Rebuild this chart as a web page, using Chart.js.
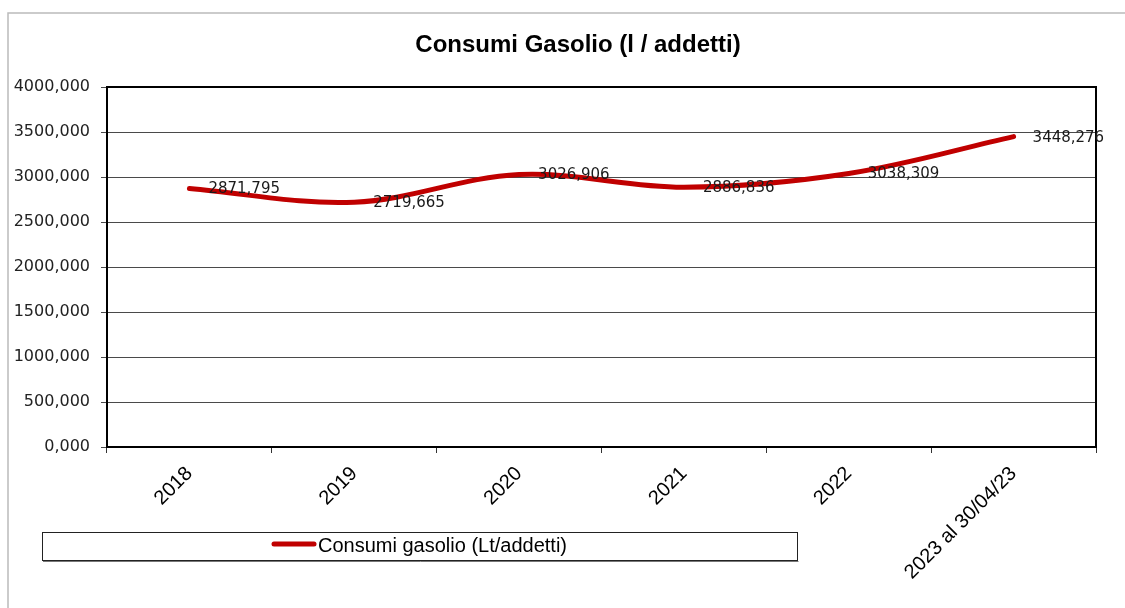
<!DOCTYPE html>
<html>
<head>
<meta charset="utf-8">
<script src="https://cdn.jsdelivr.net/npm/chart.js@4/dist/chart.umd.min.js"></script>
<style>
  html, body { margin: 0; padding: 0; background: #fff; }
  #wrap { width: 1125px; height: 608px; position: relative; }
</style>
</head>
<body>
<div id="wrap"><canvas id="chart" width="1125" height="608"></canvas></div>
<script>
// Data
const categories = ['2018', '2019', '2020', '2021', '2022', '2023 al 30/04/23'];
const consumiGasolio = [2871.795, 2719.665, 3026.906, 2886.836, 3038.309, 3448.276];
const yTickValues = [0, 500, 1000, 1500, 2000, 2500, 3000, 3500, 4000];
const chartTitle = 'Consumi Gasolio (l / addetti)';
const seriesLabel = 'Consumi gasolio (Lt/addetti)';

const lineColor = '#C00000';

function formatIt(v) {
  return v.toFixed(3).replace('.', ',');
}

// Frame, title, plot border, data labels and legend box
const decorations = {
  id: 'decorations',
  beforeDraw(chart) {
    const ctx = chart.ctx;
    ctx.save();
    ctx.strokeStyle = '#bbbbbb';
    ctx.lineWidth = 1.5;
    ctx.beginPath();
    ctx.moveTo(8, 608);
    ctx.lineTo(8, 13);
    ctx.lineTo(1125, 13);
    ctx.stroke();
    ctx.restore();
  },
  afterDraw(chart) {
    const ctx = chart.ctx;
    const area = chart.chartArea;
    ctx.save();

    // title
    ctx.fillStyle = '#000';
    ctx.font = 'bold 24px "Liberation Sans", Arial, sans-serif';
    ctx.textAlign = 'center';
    ctx.textBaseline = 'middle';
    ctx.fillText(chartTitle, 578, 45);

    // plot border top and right
    ctx.strokeStyle = '#000';
    ctx.lineWidth = 2;
    ctx.beginPath();
    ctx.moveTo(area.left, area.top);
    ctx.lineTo(area.right, area.top);
    ctx.lineTo(area.right, area.bottom);
    ctx.stroke();

    // data labels
    const meta = chart.getDatasetMeta(0);
    ctx.font = '15px "DejaVu Sans", sans-serif';
    ctx.fillStyle = '#1a1a1a';
    ctx.textAlign = 'left';
    ctx.textBaseline = 'middle';
    meta.data.forEach((pt, i) => {
      ctx.fillText(formatIt(consumiGasolio[i]), pt.x + 19, pt.y + 1);
    });

    // legend box
    ctx.fillStyle = '#fff';
    ctx.fillRect(42, 532, 755, 28);
    ctx.strokeStyle = '#222';
    ctx.lineWidth = 1;
    ctx.strokeRect(42.5, 532.5, 755, 28);
    ctx.strokeStyle = '#777';
    ctx.beginPath();
    ctx.moveTo(43, 561.5);
    ctx.lineTo(798.5, 561.5);
    ctx.stroke();

    ctx.strokeStyle = lineColor;
    ctx.lineWidth = 5;
    ctx.lineCap = 'round';
    ctx.beginPath();
    ctx.moveTo(274, 544);
    ctx.lineTo(314, 544);
    ctx.stroke();

    ctx.fillStyle = '#000';
    ctx.font = '20px "Liberation Sans", Arial, sans-serif';
    ctx.textAlign = 'left';
    ctx.textBaseline = 'middle';
    ctx.fillText(chart.data.datasets[0].label, 318, 546);

    ctx.restore();
  }
};

const ctx = document.getElementById('chart').getContext('2d');
new Chart(ctx, {
  type: 'line',
  data: {
    labels: categories,
    datasets: [{
      label: seriesLabel,
      data: consumiGasolio,
      borderColor: lineColor,
      backgroundColor: lineColor,
      borderWidth: 5,
      borderCapStyle: 'round',
      tension: 0.35,
      pointRadius: 0,
      fill: false
    }]
  },
  options: {
    responsive: false,
    animation: false,
    events: [],
    layout: { padding: { top: 87, right: 29, left: 0, bottom: 0 } },
    plugins: {
      legend: { display: false },
      title: { display: false },
      tooltip: { enabled: false }
    },
    scales: {
      x: {
        offset: true,
        afterFit(scale) { scale.height = 161; },
        grid: {
          drawOnChartArea: false,
          tickLength: 6,
          tickColor: '#333',
          offset: true
        },
        border: { color: '#000', width: 2 },
        ticks: {
          autoSkip: false,
          minRotation: 45,
          maxRotation: 45,
          padding: 9,
          color: '#000',
          font: { family: '"Liberation Sans", Arial, sans-serif', size: 20 }
        }
      },
      y: {
        min: 0,
        max: 4000,
        afterFit(scale) { scale.width = 107; },
        afterBuildTicks(scale) {
          scale.ticks = yTickValues.map(v => ({ value: v }));
        },
        grid: {
          color: '#4a4a4a',
          lineWidth: 1,
          tickLength: 6,
          tickColor: '#4a4a4a'
        },
        border: { color: '#000', width: 2 },
        ticks: {
          padding: 11,
          color: '#222',
          font: { family: '"DejaVu Sans", sans-serif', size: 16 },
          callback: (v) => formatIt(v)
        }
      }
    }
  },
  plugins: [decorations]
});
</script>
</body>
</html>
